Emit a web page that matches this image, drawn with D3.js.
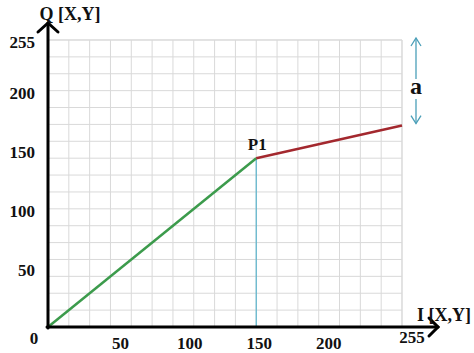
<!DOCTYPE html>
<html><head><meta charset="utf-8">
<script src="https://cdn.jsdelivr.net/npm/d3@7/dist/d3.min.js"></script>
<style>body{margin:0;background:#fff}svg{display:block}text{font-family:"Liberation Serif","Times New Roman",serif;font-weight:bold;fill:#111}</style>
</head><body>
<script>
const xTicks = [50, 100, 150, 200, 255];
const yTicks = [50, 100, 150, 200, 255];
const gridStep = 15;
const greenSeg = [[0, 0], [150, 150]];
const redSeg = [[150, 150], [255, 179]];
const pointLabel = "P1";
const xLabel = "I [X,Y]";
const yLabel = "Q [X,Y]";

const W = 474, H = 353;
const x = d3.scaleLinear().domain([0, 255]).range([48, 402]);
const y = d3.scaleLinear().domain([0, 255]).range([327, 40]);
// the reference's y tick labels drift slightly upward from the grid
const yLab = v => v === 255 ? y(v) + 2 : y(v) - (v / 50 - 1) * 2.7 - 1;

const svg = d3.select("body").append("svg").attr("width", W).attr("height", H);

// grid
const gridVals = d3.range(0, 256, gridStep);
svg.append("g").selectAll("line").data(gridVals.concat([255])).join("line")
  .attr("x1", d => x(d)).attr("x2", d => x(d)).attr("y1", y(0)).attr("y2", y(255))
  .attr("stroke", "#d9d9d9").attr("stroke-width", 1);
svg.append("g").selectAll("line").data(gridVals.concat([255])).join("line")
  .attr("y1", d => y(d)).attr("y2", d => y(d)).attr("x1", x(0)).attr("x2", x(255))
  .attr("stroke", "#d9d9d9").attr("stroke-width", 1);

// vertical blue drop line
svg.append("line").attr("x1", x(150)).attr("x2", x(150)).attr("y1", y(150)).attr("y2", y(0))
  .attr("stroke", "#5ab4cc").attr("stroke-width", 1.2);

const line = d3.line().x(d => x(d[0])).y(d => y(d[1]));
svg.append("path").attr("d", line(greenSeg)).attr("fill", "none").attr("stroke", "#3c9b4c").attr("stroke-width", 2.5);
svg.append("path").attr("d", line(redSeg)).attr("fill", "none").attr("stroke", "#a3282e").attr("stroke-width", 2.5);

// axes
const ax = svg.append("g").attr("stroke", "#000").attr("stroke-width", 3).attr("fill", "none").attr("stroke-linecap", "round");
ax.append("line").attr("x1", x(0)).attr("x2", x(0)).attr("y1", y(0) + 1).attr("y2", 23);
ax.append("path").attr("d", `M${x(0) - 10},32 L${x(0)},23 L${x(0) + 10},32`);
ax.append("line").attr("x1", x(0) - 1).attr("x2", 438).attr("y1", y(0)).attr("y2", y(0));
ax.append("path").attr("d", `M429,${y(0) - 9} L438,${y(0)} L429,${y(0) + 9}`);

// tick labels
svg.append("g").selectAll("text").data(yTicks).join("text")
  .attr("x", 35).attr("y", d => yLab(d) + 6).attr("text-anchor", "end").attr("font-size", 17).text(d => d);
svg.append("g").selectAll("text").data(xTicks).join("text")
  .attr("x", d => d === 255 ? x(d) + 10 : x(d) + 3)
  .attr("y", d => d === 255 ? 343 : 349)
  .attr("text-anchor", "middle").attr("font-size", 17).text(d => d);
svg.append("text").attr("x", 34).attr("y", 344).attr("text-anchor", "middle").attr("font-size", 17).text(0);

// axis titles
svg.append("text").attr("x", 70).attr("y", 20).attr("text-anchor", "middle").attr("font-size", 18).text(yLabel);
svg.append("text").attr("x", 444).attr("y", 321).attr("text-anchor", "middle").attr("font-size", 18).text(xLabel);

// P1 label
svg.append("text").attr("x", x(150) + 1).attr("y", y(150) - 8).attr("text-anchor", "middle").attr("font-size", 17).text(pointLabel);

// "a" double arrow
const ac = "#4b9fb8", axp = 416;
const ag = svg.append("g").attr("stroke", ac).attr("stroke-width", 1.3).attr("fill", "none");
ag.append("line").attr("x1", axp).attr("x2", axp).attr("y1", 38).attr("y2", 79);
ag.append("line").attr("x1", axp).attr("x2", axp).attr("y1", 99).attr("y2", y(179) - 2);
ag.append("path").attr("d", `M${axp - 5},46 L${axp},38 L${axp + 5},46`);
ag.append("path").attr("d", `M${axp - 5},${y(179) - 10} L${axp},${y(179) - 2} L${axp + 5},${y(179) - 10}`);
svg.append("text").attr("x", axp).attr("y", 94).attr("text-anchor", "middle").attr("font-size", 24).text("a");
</script>
</body></html>
